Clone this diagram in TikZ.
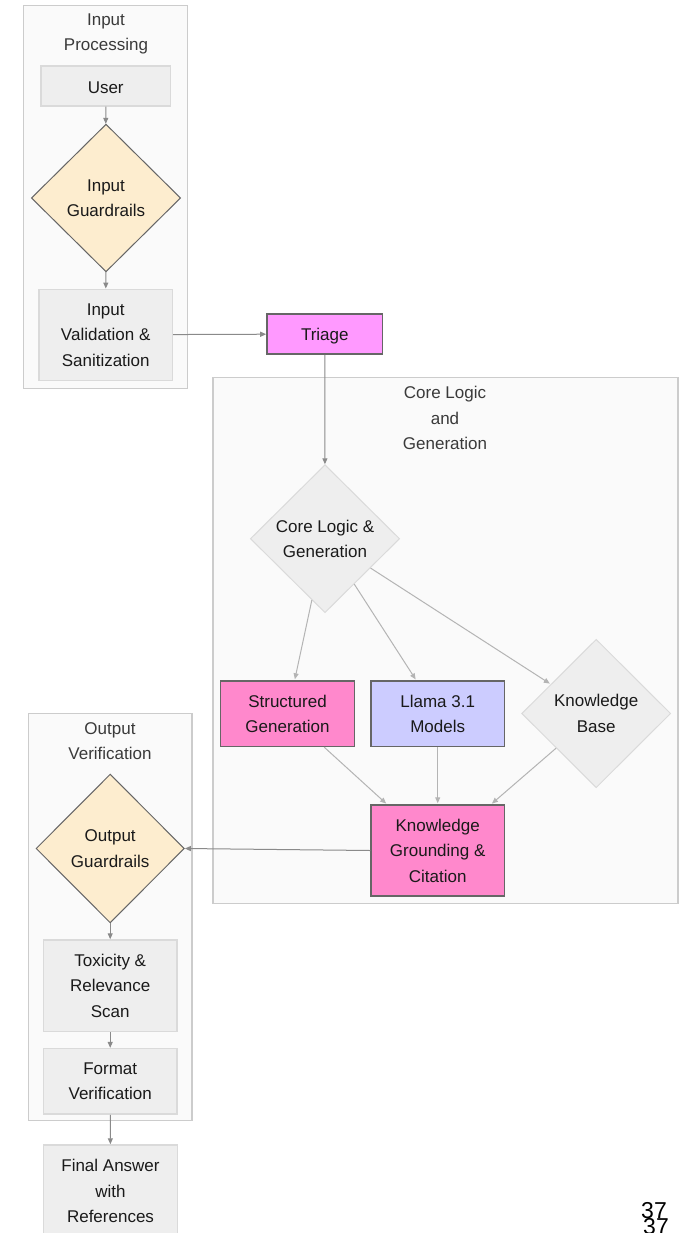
\documentclass[tikz,border=0pt]{standalone}
\usepackage{fontspec}
\setmainfont{Liberation Sans}
\usetikzlibrary{shapes.geometric,arrows.meta}
\definecolor{clfill}{HTML}{FAFAFA}
\definecolor{cldraw}{HTML}{CCCCCC}
\definecolor{grayfill}{HTML}{EEEEEE}
\definecolor{graydraw}{HTML}{DADADA}
\definecolor{guardfill}{HTML}{FDEDCF}
\definecolor{darkdraw}{HTML}{666666}
\definecolor{triagefill}{HTML}{FF99FF}
\definecolor{pinkfill}{HTML}{FF88CC}
\definecolor{llamafill}{HTML}{CCCCFF}
\definecolor{edgecol}{HTML}{8A8A8A}
\definecolor{edgelight}{HTML}{B4B4B4}
\definecolor{txt}{HTML}{1A1A1A}
\definecolor{titletxt}{HTML}{3A3A3A}
\tikzset{
  every node/.style={font=\fontsize{17}{25.5}\selectfont, text=txt},
  strutted/.style={execute at begin node={\rule{0pt}{16pt}}},
  cluster/.style={draw=cldraw, fill=clfill, line width=1.5pt, rectangle, inner sep=0pt},
  ctitle/.style={align=center, text=titletxt, inner sep=0pt},
  graybox/.style={draw=graydraw, fill=grayfill, line width=1.5pt, rectangle, align=center, inner sep=0pt, strutted},
  colbox/.style={draw=darkdraw, line width=1.5pt, rectangle, align=center, inner sep=0pt, strutted},
  guard/.style={draw=darkdraw, fill=guardfill, line width=1pt, diamond, align=center, inner sep=0pt, strutted},
  graydia/.style={draw=graydraw, fill=grayfill, line width=1pt, diamond, align=center, inner sep=0pt, strutted},
  arr/.style={draw=edgecol, line width=1pt, -{Triangle[length=6pt,width=5pt]}},
  arrl/.style={draw=edgelight, line width=1pt, -{Triangle[length=6pt,width=5pt]}, shorten >=1pt},
  pagenum/.style={font=\fontsize{23}{23}\selectfont, text=black, inner sep=0pt}
}
\begin{document}
\begin{tikzpicture}[x=1pt,y=-1pt]
\useasboundingbox (0,0) rectangle (680,1233);
\clip (0,0) rectangle (680,1233);
\fill[white] (0,0) rectangle (680,1233);

% clusters
\node[cluster, minimum width=164, minimum height=382.6] (cin) at (105.3,197) {};
\node[cluster, minimum width=465, minimum height=526] (ccore) at (445.5,640.7) {};
\node[cluster, minimum width=163.7, minimum height=407] (cout) at (110.2,917.2) {};

\node[ctitle] (tin) at (106,34) {Input\\Processing};
\node[ctitle] (tcore) at (445,418) {Core Logic\\and\\Generation};
\node[ctitle] (tout) at (110,741) {Output\\Verification};

% nodes
\node[graybox, minimum width=129.3, minimum height=40] (user) at (105.7,86) {User};
\node[guard, minimum width=149.3, minimum height=147.7] (ing) at (106,198) {Input\\Guardrails};
\node[graybox, minimum width=133.3, minimum height=91] (inval) at (105.7,334.8) {Input\\Validation \&\\Sanitization};
\node[colbox, fill=triagefill, minimum width=115.7, minimum height=40] (triage) at (324.8,334) {Triage};
\node[graydia, minimum width=149.3, minimum height=148] (core) at (325,538.7) {Core Logic \&\\Generation};
\node[colbox, fill=pinkfill, minimum width=133.6, minimum height=65.4] (struct) at (287.5,713.7) {Structured\\Generation};
\node[colbox, fill=llamafill, minimum width=133.3, minimum height=65.4] (llama) at (437.7,713.7) {Llama 3.1\\Models};
\node[graydia, minimum width=149, minimum height=148.4] (kb) at (596.2,713.5) {Knowledge\\Base};
\node[colbox, fill=pinkfill, minimum width=133.3, minimum height=91] (kg) at (437.7,850.5) {Knowledge\\Grounding \&\\Citation};
\node[guard, minimum width=148.3, minimum height=148.8] (outg) at (110.2,848.5) {Output\\Guardrails};
\node[graybox, minimum width=133.7, minimum height=91.6] (tox) at (110.2,985.8) {Toxicity \&\\Relevance\\Scan};
\node[graybox, minimum width=133.7, minimum height=65.4] (fmt) at (110.2,1081.3) {Format\\Verification};
\node[graybox, minimum width=134, minimum height=92] (final) at (110.5,1191) {Final Answer\\with\\References};

% edges
\draw[arr] (user) -- (ing);
\draw[arr] (ing) -- (inval);
\draw[arr] (inval) -- (triage);
\draw[arr] (triage) -- (core);
\draw[arrl] (core) -- (struct);
\draw[arrl] (core) -- (llama);
\draw[arrl] (core) -- (kb);
\draw[arrl] (struct) -- (kg);
\draw[arrl] (llama) -- (kg);
\draw[arrl] (kb) -- (kg);
\draw[arr] (kg.west) -- (outg.east);
\draw[arr] (outg) -- (tox);
\draw[arr] (tox) -- (fmt);
\draw[arr] (fmt) -- (final);

% page numbers (overlapping, as in the reference)
\node[pagenum] (pn1) at (654,1211) {37};
\node[pagenum] (pn2) at (656,1227) {37};
\end{tikzpicture}
\end{document}
